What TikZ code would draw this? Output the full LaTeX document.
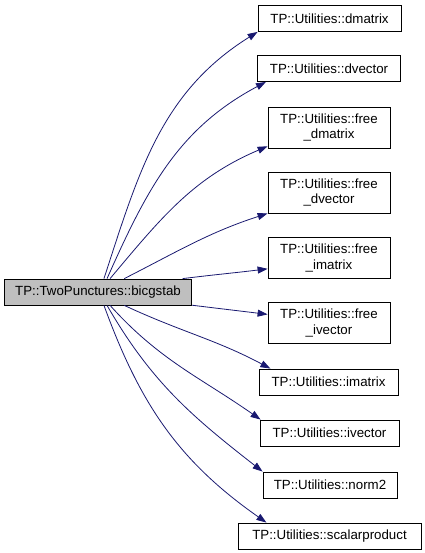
\documentclass[tikz,border=0pt]{standalone}
\usepackage{fontspec}
\setmainfont{Liberation Sans}
\usetikzlibrary{arrows.meta}
\definecolor{edgeblue}{HTML}{191970}
\definecolor{rootgray}{HTML}{BFBFBF}
\tikzset{
  fnode/.style={draw=black, line width=0.8pt, inner sep=0pt, align=center,
    font=\fontsize{13.3}{15.5}\selectfont},
  rootnode/.style={fnode, fill=rootgray},
  calledge/.style={draw=edgeblue, line width=0.8pt,
    -{Triangle[length=10pt,width=7pt]}}
}
\begin{document}
\begin{tikzpicture}[x=1pt,y=-1pt]
 \useasboundingbox (0,0) rectangle (424,553);
 % Aufrufer
 \node[rootnode, minimum width=187pt, minimum height=26pt] (bicgstab) at (98,292) {TP::TwoPunctures::bicgstab};

 % aufgerufene Funktionen
 \node[fnode, minimum width=143pt, minimum height=26pt] (dmatrix) at (329.5,18.5) {TP::Utilities::dmatrix};
 \node[fnode, minimum width=143pt, minimum height=26pt] (dvector) at (329,68.5) {TP::Utilities::dvector};
 \node[fnode, minimum width=122pt, minimum height=41pt] (freedmatrix) at (329,127.5) {TP::Utilities::free\\\_dmatrix};
 \node[fnode, minimum width=122pt, minimum height=41pt] (freedvector) at (329,192.5) {TP::Utilities::free\\\_dvector};
 \node[fnode, minimum width=122pt, minimum height=41pt] (freeimatrix) at (329,258) {TP::Utilities::free\\\_imatrix};
 \node[fnode, minimum width=122pt, minimum height=41pt] (freeivector) at (329,323) {TP::Utilities::free\\\_ivector};
 \node[fnode, minimum width=139pt, minimum height=26pt] (imatrix) at (328.5,382) {TP::Utilities::imatrix};
 \node[fnode, minimum width=139pt, minimum height=26pt] (ivector) at (329.5,433) {TP::Utilities::ivector};
 \node[fnode, minimum width=134pt, minimum height=26pt] (norm2) at (330,485) {TP::Utilities::norm2};
 \node[fnode, minimum width=183pt, minimum height=26pt] (scalarproduct) at (329.5,536) {TP::Utilities::scalarproduct};

 % Aufrufkanten
 \draw[calledge] (bicgstab.66) to[out=72, in=212] (dmatrix.south west);
 \draw[calledge] (bicgstab.56) to[out=66, in=208] (dvector.192);
 \draw[calledge] (bicgstab.48) to[out=50, in=203] (freedmatrix.197);
 \draw[calledge] (bicgstab.27) to[out=27, in=198] (freedvector.south west);
 \draw[calledge] (bicgstab.9) to[out=7, in=187] (freeimatrix.190);
 \draw[calledge] (bicgstab.-8) to[out=-7, in=173] (freeivector.172);
 \draw[calledge] (bicgstab.-27) to[out=-25, in=152] (imatrix.167);
 \draw[calledge] (bicgstab.-48) to[out=-48, in=145] (ivector.169);
 \draw[calledge] (bicgstab.-56) to[out=-60, in=142] (norm2.north west);
 \draw[calledge] (bicgstab.-66) to[out=-70, in=145] (scalarproduct.168);
\end{tikzpicture}
\end{document}
